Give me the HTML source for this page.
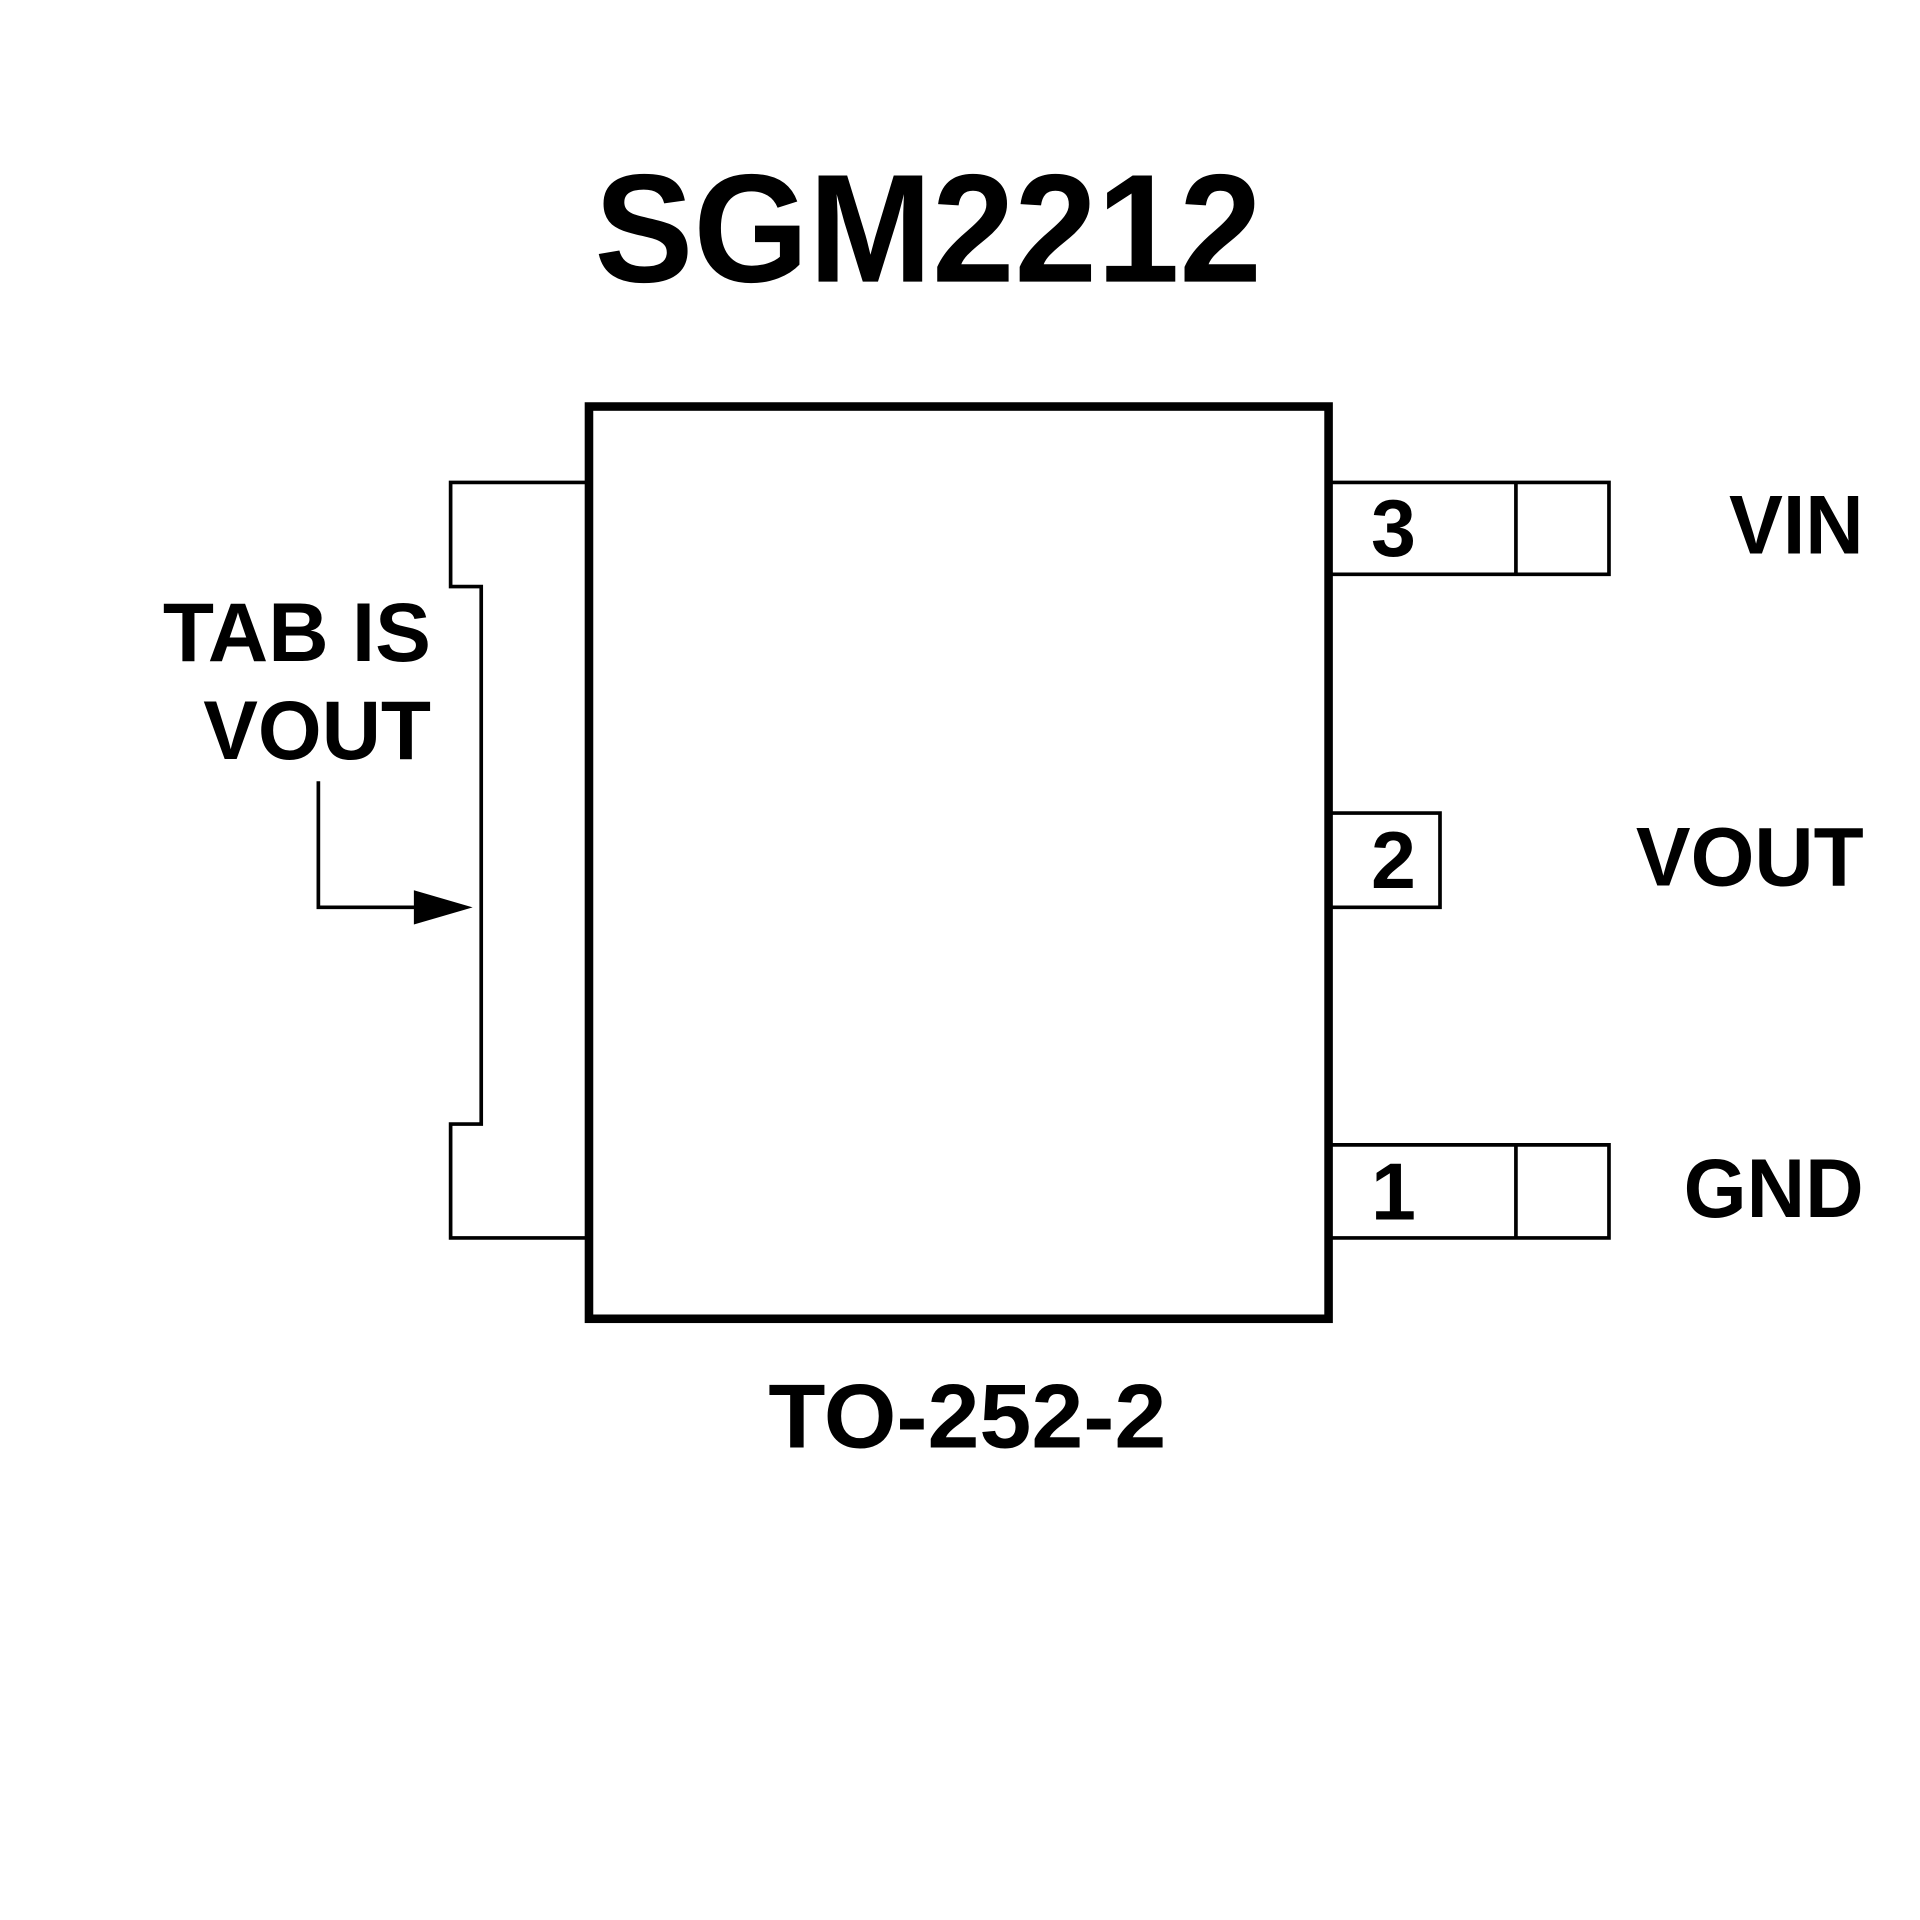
<!DOCTYPE html>
<html><head><meta charset="utf-8"><style>
html,body{margin:0;padding:0;background:#fff;}
svg{display:block;}
text{font-family:"Liberation Sans",Arial,sans-serif;font-weight:bold;fill:#000;}
</style></head><body>
<svg width="1920" height="1920" viewBox="0 0 1568 1568" xmlns="http://www.w3.org/2000/svg">
<rect width="1568" height="1568" fill="#fff"/>
<text x="758" y="230" font-size="126" text-anchor="middle" textLength="545" lengthAdjust="spacingAndGlyphs">SGM2212</text>
<rect x="481" y="332" width="604" height="745" fill="none" stroke="#000" stroke-width="7"/>
<path d="M478 394 H368 V479 H393 V918 H368 V1011 H478" fill="none" stroke="#000" stroke-width="3"/>
<path d="M260 638 V741 H340" fill="none" stroke="#000" stroke-width="3"/>
<polygon points="338,727 386,741 338,755" fill="#000"/>
<path d="M1087 394 H1314 V469 H1087 M1238 394 V469" fill="none" stroke="#000" stroke-width="3"/>
<path d="M1087 664 H1176 V741 H1087" fill="none" stroke="#000" stroke-width="3"/>
<path d="M1087 935 H1314 V1011 H1087 M1238 935 V1011" fill="none" stroke="#000" stroke-width="3"/>
<text x="1138" y="454" font-size="66" text-anchor="middle">3</text>
<text x="1138" y="725" font-size="66" text-anchor="middle">2</text>
<text x="1138" y="996" font-size="66" text-anchor="middle">1</text>
<text x="1522" y="452" font-size="68" text-anchor="end" textLength="110" lengthAdjust="spacingAndGlyphs">VIN</text>
<text x="1522" y="723" font-size="68" text-anchor="end" textLength="186" lengthAdjust="spacingAndGlyphs">VOUT</text>
<text x="1522" y="994" font-size="68" text-anchor="end" textLength="147" lengthAdjust="spacingAndGlyphs">GND</text>
<text x="352" y="540" font-size="68" text-anchor="end" textLength="219" lengthAdjust="spacingAndGlyphs">TAB IS</text>
<text x="352" y="620" font-size="68" text-anchor="end" textLength="186" lengthAdjust="spacingAndGlyphs">VOUT</text>
<text x="790" y="1182" font-size="74" text-anchor="middle" textLength="325" lengthAdjust="spacingAndGlyphs">TO-252-2</text>
</svg>
</body></html>
